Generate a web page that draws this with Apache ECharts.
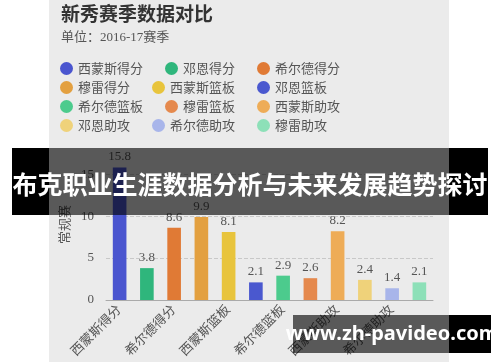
<!DOCTYPE html>
<html>
<head>
<meta charset="utf-8">
<script src="https://cdn.jsdelivr.net/npm/echarts@6/dist/echarts.min.js"></script>
<style>
html,body{margin:0;padding:0;background:#fff;}
#chart{width:500px;height:362px;}
</style>
</head>
<body>
<div id="chart"></div>
<script>
const categories = ['西蒙斯得分','邓恩得分','希尔德得分','穆雷得分','西蒙斯篮板','邓恩篮板','希尔德篮板','穆雷篮板','西蒙斯助攻','邓恩助攻','希尔德助攻','穆雷助攻'];
const values = [15.8, 3.8, 8.6, 9.9, 8.1, 2.1, 2.9, 2.6, 8.2, 2.4, 1.4, 2.1];
const colors = ['#4a55cf','#2fb67c','#e07a35','#e3a040','#e8c43c','#4a58cf','#4ccb8d','#e5894d','#eeac57','#efd27a','#a8b5ea','#8de0b8'];
const yTicks = {min: 0, max: 18, interval: 5};
const titleText = '新秀赛季数据对比';
const subText = '单位：2016-17赛季';
const yName = '常规赛';
const bannerText = '布克职业生涯数据分析与未来发展趋势探讨';
const watermark = 'www.zh-pavideo.com';

const serif = "'Liberation Serif','Noto Sans CJK SC',serif";
const sans = "'Noto Sans CJK SC','Noto Sans',sans-serif";

const series = categories.map((name, i) => ({
  name: name,
  type: 'bar',
  stack: 'all',
  barWidth: '50%',
  itemStyle: {color: colors[i]},
  label: {show: true, position: 'top', color: '#555', fontSize: 13, fontFamily: serif, distance: 4},
  data: categories.map((c, j) => j === i ? values[i] : '-')
}));

const rowTops = [62, 81, 100, 119];
const legends = rowTops.map((t, r) => ({
  left: 60, top: t,
  icon: 'circle', itemWidth: 13, itemHeight: 13, itemGap: 22,
  padding: 0,
  textStyle: {color: '#555', fontSize: 13, fontFamily: sans},
  data: categories.slice(r * 3, r * 3 + 3)
}));

const chart = echarts.init(document.getElementById('chart'), null, {renderer: 'canvas'});
chart.setOption({
  animation: false,
  backgroundColor: 'transparent',
  title: {
    text: titleText, subtext: subText, left: 61, top: 4, itemGap: 8, padding: 0,
    textStyle: {color: '#333', fontSize: 19, fontWeight: 'bold', fontFamily: sans},
    subtextStyle: {color: '#555', fontSize: 13, fontFamily: serif}
  },
  legend: legends,
  grid: {left: 106, right: 67, top: 149, bottom: 62},
  xAxis: {
    type: 'category', data: categories,
    axisLine: {lineStyle: {color: '#aaa'}},
    axisTick: {alignWithLabel: true, interval: 1, lineStyle: {color: '#aaa'}},
    axisLabel: {interval: 1, rotate: 45, color: '#555', fontSize: 13, fontFamily: serif, margin: 8}
  },
  yAxis: {
    type: 'value', min: yTicks.min, max: yTicks.max, interval: yTicks.interval,
    name: yName, nameLocation: 'middle', nameGap: 34, nameRotate: 90,
    nameTextStyle: {color: '#555', fontSize: 13, fontFamily: sans},
    axisLine: {show: false}, axisTick: {show: false},
    axisLabel: {color: '#555', fontSize: 13, fontFamily: serif, showMaxLabel: false, margin: 12},
    splitLine: {showMaxLine: false, lineStyle: {type: 'dashed', color: '#c8c8c8'}}
  },
  graphic: [
    {type: 'rect', z: -10, silent: true, shape: {x: 49, y: 0, width: 400, height: 362}, style: {fill: '#ebebeb'}},
    {type: 'rect', z: 100, silent: true, shape: {x: 12, y: 148, width: 37, height: 67}, style: {fill: '#000'}},
    {type: 'rect', z: 100, silent: true, shape: {x: 449, y: 148, width: 39, height: 67}, style: {fill: '#000'}},
    {type: 'rect', z: 100, silent: true, shape: {x: 49, y: 148, width: 400, height: 67}, style: {fill: 'rgba(0,0,0,0.62)'}},
    {type: 'text', z: 101, silent: true, x: 250, y: 184, style: {text: bannerText, fill: '#fff', font: "bold 25px 'Noto Sans CJK SC'", textAlign: 'center', textVerticalAlign: 'middle'}},
    {type: 'rect', z: 100, silent: true, shape: {x: 449, y: 315, width: 42, height: 38}, style: {fill: '#000'}},
    {type: 'rect', z: 100, silent: true, shape: {x: 293, y: 315, width: 156, height: 38}, style: {fill: 'rgba(0,0,0,0.62)'}},
    {type: 'text', z: 101, silent: true, x: 392, y: 334, style: {text: watermark, fill: '#fff', font: "bold 20px 'Noto Sans','DejaVu Sans'", textAlign: 'center', textVerticalAlign: 'middle'}}
  ],
  series: series
});
</script>
</body>
</html>
